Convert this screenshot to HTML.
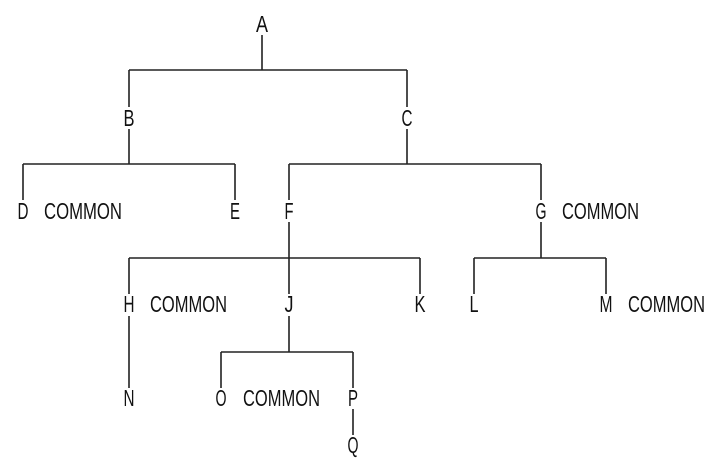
<!DOCTYPE html>
<html><head><meta charset="utf-8"><style>
html,body{margin:0;padding:0;background:#fff;width:722px;height:466px;overflow:hidden}
text{font-family:"Liberation Sans",sans-serif;font-size:23px;fill:#111}
</style></head><body>
<svg width="722" height="466" viewBox="0 0 722 466" xmlns="http://www.w3.org/2000/svg">
<g stroke="#222" stroke-width="1.6" fill="none">
<line x1="262" y1="35" x2="262" y2="70"/>
<line x1="129" y1="70" x2="407" y2="70"/>
<line x1="129" y1="70" x2="129" y2="107"/>
<line x1="407" y1="70" x2="407" y2="107"/>
<line x1="129" y1="129" x2="129" y2="164"/>
<line x1="23" y1="164" x2="235" y2="164"/>
<line x1="23" y1="164" x2="23" y2="200"/>
<line x1="235" y1="164" x2="235" y2="200"/>
<line x1="407" y1="129" x2="407" y2="164"/>
<line x1="289" y1="164" x2="541" y2="164"/>
<line x1="289" y1="164" x2="289" y2="200"/>
<line x1="541" y1="164" x2="541" y2="200"/>
<line x1="289" y1="222" x2="289" y2="294"/>
<line x1="129" y1="258" x2="420" y2="258"/>
<line x1="129" y1="258" x2="129" y2="294"/>
<line x1="420" y1="258" x2="420" y2="294"/>
<line x1="541" y1="222" x2="541" y2="258"/>
<line x1="474" y1="258" x2="606" y2="258"/>
<line x1="474" y1="258" x2="474" y2="294"/>
<line x1="606" y1="258" x2="606" y2="294"/>
<line x1="129" y1="316" x2="129" y2="388"/>
<line x1="289" y1="316" x2="289" y2="352"/>
<line x1="221" y1="352" x2="353" y2="352"/>
<line x1="221" y1="352" x2="221" y2="388"/>
<line x1="353" y1="352" x2="353" y2="388"/>
<line x1="353" y1="409" x2="353" y2="435"/>
</g>
<g text-anchor="middle">
<text x="262" y="32" textLength="12" lengthAdjust="spacingAndGlyphs">A</text>
<text x="129" y="126" textLength="11" lengthAdjust="spacingAndGlyphs">B</text>
<text x="407" y="126" textLength="11" lengthAdjust="spacingAndGlyphs">C</text>
<text x="23" y="219" textLength="11" lengthAdjust="spacingAndGlyphs">D</text>
<text x="235" y="219" textLength="10" lengthAdjust="spacingAndGlyphs">E</text>
<text x="289" y="219" textLength="9" lengthAdjust="spacingAndGlyphs">F</text>
<text x="541" y="219" textLength="11" lengthAdjust="spacingAndGlyphs">G</text>
<text x="129" y="312" textLength="11" lengthAdjust="spacingAndGlyphs">H</text>
<text x="289" y="312" textLength="9" lengthAdjust="spacingAndGlyphs">J</text>
<text x="420" y="312" textLength="11" lengthAdjust="spacingAndGlyphs">K</text>
<text x="474" y="312" textLength="9" lengthAdjust="spacingAndGlyphs">L</text>
<text x="606" y="312" textLength="13" lengthAdjust="spacingAndGlyphs">M</text>
<text x="129" y="406" textLength="11" lengthAdjust="spacingAndGlyphs">N</text>
<text x="221" y="406" textLength="11" lengthAdjust="spacingAndGlyphs">O</text>
<text x="353" y="406" textLength="10" lengthAdjust="spacingAndGlyphs">P</text>
<text x="353" y="453" textLength="11" lengthAdjust="spacingAndGlyphs">Q</text>
</g>
<g>
<text x="44" y="219" textLength="78" lengthAdjust="spacingAndGlyphs">COMMON</text>
<text x="562" y="219" textLength="77" lengthAdjust="spacingAndGlyphs">COMMON</text>
<text x="150" y="312" textLength="77" lengthAdjust="spacingAndGlyphs">COMMON</text>
<text x="628" y="312" textLength="77" lengthAdjust="spacingAndGlyphs">COMMON</text>
<text x="243" y="406" textLength="77" lengthAdjust="spacingAndGlyphs">COMMON</text>
</g>
</svg>
</body></html>
